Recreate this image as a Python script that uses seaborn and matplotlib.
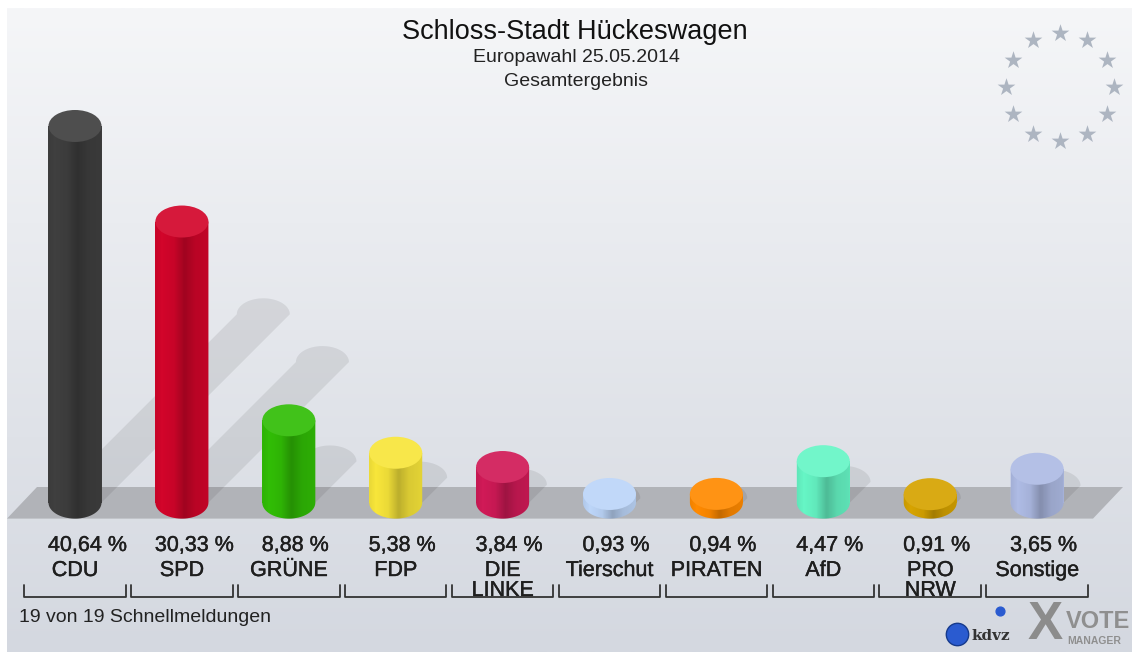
import numpy as np
import matplotlib
matplotlib.use("Agg")
import matplotlib.pyplot as plt
import matplotlib.colors as mcolors
import matplotlib.patheffects as pe
import seaborn as sns
from matplotlib.patches import Ellipse, Polygon

# values
parties = ["CDU", "SPD", "GRÜNE", "FDP", "DIE\nLINKE", "Tierschut", "PIRATEN", "AfD", "PRO\nNRW", "Sonstige"]
shares = [40.64, 30.33, 8.88, 5.38, 3.84, 0.93, 0.94, 4.47, 0.91, 3.65]
bar_colors = ["#3f3f3f", "#d2052a", "#31bd06", "#f7e53a", "#d01a57",
              "#bcd5f8", "#ff8a00", "#66f5c5", "#d6a300", "#aebbe4"]
title = "Schloss-Stadt Hückeswagen"
subtitles = ["Europawahl 25.05.2014", "Gesamtergebnis"]
footnote = "19 von 19 Schnellmeldungen"

W, H = 1132, 652
PX_X = 106.9    # pixels per category
PX_Y = 9.267    # pixels per percent point
X0, Y0 = 75, 502.6   # pixel position of the first bar's base
CAP = 32 / PX_Y      # ellipse height in data units
TXT = "#1e1e1e"
heavy = [pe.withStroke(linewidth=0.3, foreground=TXT)]


def px_y(py):
    return (Y0 - py) / PX_Y


def px_x(px):
    return (px - X0) / PX_X


sns.set_theme(style="white")
plt.rcParams["font.family"] = ["Liberation Sans", "DejaVu Sans"]

fig = plt.figure(figsize=(W / 100, H / 100), dpi=100, facecolor="white")

# background panel with vertical gradient
bg = fig.add_axes([0, 0, 1, 1], zorder=0)
top_c = np.array(mcolors.to_rgb("#f5f6f8"))
bot_c = np.array(mcolors.to_rgb("#d4d8e0"))
t = np.linspace(0, 1, 256)[:, None, None]
bg.imshow(top_c + (bot_c - top_c) * t, aspect="auto", extent=[7, W, H, 8], zorder=0)
bg.set_xlim(0, W)
bg.set_ylim(H, 0)
bg.axis("off")

# EU stars
ang = np.deg2rad(90 - 30 * np.arange(12))
bg.scatter(1060 + 54 * np.cos(ang), 87 - 54 * np.sin(ang), marker="*", s=180,
           color="#adb5c1", linewidths=0, zorder=2)

# titles
bg.text(575, 32, title, ha="center", va="center", fontsize=19.5, color="#111111")
bg.text(576, 57, subtitles[0], ha="center", va="center", fontsize=14, color="#222222")
bg.text(576, 81, subtitles[1], ha="center", va="center", fontsize=14, color="#222222")
bg.text(19, 618, footnote, ha="left", va="center", fontsize=14, color="#222222")

# logo
bg.scatter([957], [634], s=260, color="#2a5bd0", edgecolor="#163a8c", zorder=3)
bg.scatter([1000], [611], s=40, color="#2a5bd0", zorder=3)
bg.text(972, 636, "kdvz", ha="left", va="center", fontsize=11, fontweight="bold",
        family="DejaVu Serif", color="#333333")
bg.text(1045, 625, "X", ha="center", va="center", fontsize=38, fontweight="bold",
        color="#8c8c8c")
bg.text(1066, 622, "VOTE", ha="left", va="center", fontsize=17, fontweight="bold",
        color="#8f8f8f")
bg.text(1067, 641, "MANAGER", ha="left", va="center", fontsize=7.5, fontweight="bold",
        color="#8f8f8f")

# main chart axes
ax = fig.add_axes([0, 0, 1, 1], zorder=1)
ax.patch.set_alpha(0)
sns.barplot(x=parties, y=shares, hue=parties, palette=bar_colors, width=0.496,
            saturation=1, legend=False, ax=ax, zorder=3, linewidth=0)
bars = sorted(list(ax.patches), key=lambda p: p.get_x())
xlim = (px_x(0), px_x(W))
ylim = (px_y(H), px_y(0))

# floor band
floor = Polygon([(px_x(7), px_y(518.6)), (px_x(37), px_y(487)),
                 (px_x(1123), px_y(487)), (px_x(1093), px_y(518.6))],
                closed=True, facecolor="#b1b3b8", edgecolor="none", zorder=1)
ax.add_patch(floor)

# shading profile across a cylinder
prof_x = [0.0, 0.12, 0.35, 0.55, 0.75, 1.0]
prof_a = [0.06, 0.0, 0.05, 0.24, 0.12, 0.08]
xs = np.linspace(0, 1, 64)
shade = np.zeros((1, 64, 4))
shade[0, :, 3] = np.interp(xs, prof_x, prof_a)

for p, col in zip(bars, bar_colors):
    x0, w, h = p.get_x(), p.get_width(), p.get_height()
    cx = x0 + w / 2
    th = np.linspace(np.pi, 2 * np.pi, 40)
    lower = np.column_stack([cx + w / 2 * np.cos(th), CAP / 2 * np.sin(th)])

    # cast shadow up to the right
    dx = 0.5 * h * PX_Y / PX_X
    dy = 0.5 * h
    th2 = np.linspace(0, np.pi, 40)
    upper = np.column_stack([cx + dx + w / 2 * np.cos(th2), dy + CAP / 2 * np.sin(th2)])
    sh = np.vstack([[(x0, 0), (x0 + w, 0)], upper])
    ax.add_patch(Polygon(sh, closed=True, facecolor="black", alpha=0.08,
                         edgecolor="none", zorder=2))

    body = Polygon(np.vstack([[(x0, h)], lower, [(x0 + w, h)]]), closed=True,
                   facecolor=col, edgecolor="none", zorder=2.9)
    ax.add_patch(body)
    im = ax.imshow(shade, extent=[x0, x0 + w, -CAP / 2, h], aspect="auto",
                   zorder=3.5, interpolation="bilinear")
    im.set_clip_path(body)

    rgb = np.array(mcolors.to_rgb(col))
    ax.add_patch(Ellipse((cx, h), w, CAP, facecolor=rgb + (1 - rgb) * 0.08,
                         edgecolor="none", zorder=4))

# labels and brackets
for i, (name, v) in enumerate(zip(parties, shares)):
    ax.text(i - 0.253, px_y(551), f"{v:.2f} %".replace(".", ","), ha="left",
            va="baseline", fontsize=15.5, color=TXT, path_effects=heavy)
    for k, line in enumerate(name.split("\n")):
        ax.text(i, px_y(576 + 20 * k), line, ha="center", va="baseline",
                fontsize=15.5, color=TXT, path_effects=heavy)
    ax.plot([i - 0.475, i - 0.475, i + 0.475, i + 0.475],
            [px_y(585), px_y(597), px_y(597), px_y(585)],
            color="#333333", lw=1.3, zorder=3)

ax.set_xlim(*xlim)
ax.set_ylim(*ylim)
ax.axis("off")

fig.savefig("out.png", dpi=100)
